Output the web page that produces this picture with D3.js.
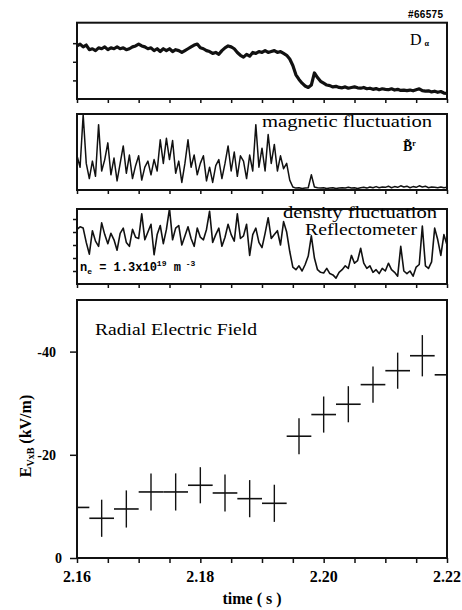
<!DOCTYPE html>
<html><head><meta charset="utf-8">
<script src="https://cdn.jsdelivr.net/npm/d3@7"></script>
<style>body{margin:0;background:#fff}</style>
</head><body><svg id="c" width="462" height="610"></svg>
<script>
// ---- data ----
const sampleTimes = [
2.16,2.1605,2.161,2.1615,2.162,2.1625,2.163,2.1635,2.164,2.1645,
2.165,2.1655,2.166,2.1665,2.167,2.1675,2.168,2.1685,2.169,2.1695,
2.17,2.1705,2.171,2.1715,2.172,2.1725,2.173,2.1735,2.174,2.1745,
2.175,2.1755,2.176,2.1765,2.177,2.1775,2.178,2.1785,2.179,2.1795,
2.18,2.1805,2.181,2.1815,2.182,2.1825,2.183,2.1835,2.184,2.1845,
2.185,2.1855,2.186,2.1865,2.187,2.1875,2.188,2.1885,2.189,2.1895,
2.19,2.1905,2.191,2.1915,2.192,2.1925,2.193,2.1935,2.194,2.1945,
2.195,2.1955,2.196,2.1965,2.197,2.1975,2.198,2.1985,2.199,2.1995,
2.2,2.2005,2.201,2.2015,2.202,2.2025,2.203,2.2035,2.204,2.2045,
2.205,2.2055,2.206,2.2065,2.207,2.2075,2.208,2.2085,2.209,2.2095,
2.21,2.2105,2.211,2.2115,2.212,2.2125,2.213,2.2135,2.214,2.2145,
2.215,2.2155,2.216,2.2165,2.217,2.2175,2.218,2.2185,2.219,2.2195,
2.22];
const dAlpha = [
2.85,2.95,2.8,2.9,2.65,2.7,2.6,2.75,2.7,2.8,
2.65,2.75,2.7,2.8,2.7,2.75,2.65,2.7,2.8,2.85,
2.95,2.85,2.8,2.7,2.75,2.6,2.7,2.55,2.7,2.6,
2.7,2.55,2.65,2.6,2.5,2.6,2.7,2.8,2.9,2.95,
2.75,2.7,2.6,2.55,2.45,2.5,2.4,2.6,2.75,2.85,
2.8,2.7,2.5,2.35,2.25,2.4,2.3,2.5,2.45,2.55,
2.5,2.6,2.5,2.55,2.6,2.5,2.55,2.45,2.35,2.15,
1.8,1.3,1.05,0.85,0.7,0.62,0.75,1.4,1.15,0.95,
0.85,0.75,0.72,0.65,0.68,0.62,0.6,0.65,0.58,0.62,
0.65,0.6,0.58,0.62,0.55,0.58,0.52,0.56,0.5,0.55,
0.52,0.5,0.55,0.48,0.52,0.46,0.48,0.45,0.48,0.44,
0.5,0.55,0.45,0.42,0.44,0.38,0.42,0.36,0.4,0.32,
0.3];
const magFluct = [
4.5,3.0,9.9,3.5,1.5,3.8,1.8,8.6,2.5,4.0,
6.2,2.0,4.2,1.2,3.5,5.8,2.2,4.6,1.5,3.2,
4.5,1.3,3.0,3.8,2.0,4.0,2.5,6.6,3.5,6.8,
4.0,6.5,2.2,3.8,1.0,3.5,6.6,3.0,4.6,2.0,
3.5,4.5,1.2,3.0,1.0,3.2,4.0,1.5,3.5,5.8,
2.5,5.0,1.8,4.5,3.8,1.5,4.6,2.5,8.6,3.0,
5.5,2.5,7.3,3.5,6.0,2.5,4.5,2.8,3.5,1.3,
0.4,0.25,0.3,0.2,0.25,0.3,2.0,0.4,0.3,0.25,
0.3,0.2,0.25,0.3,0.2,0.25,0.3,0.25,0.35,0.25,
0.3,0.2,0.3,0.35,0.25,0.4,0.3,0.45,0.3,0.4,
0.35,0.5,0.3,0.45,0.35,0.55,0.4,0.5,0.3,0.45,
0.35,0.55,0.4,0.5,0.3,0.4,0.35,0.3,0.4,0.3,
0.35];
const densFluct = [
4.2,4.4,4.3,3.2,2.3,4.1,3.3,2.9,4.7,3.8,
3.1,3.9,3.4,2.6,3.9,4.3,3.2,2.9,4.2,3.6,
3.5,5.4,3.4,4.0,4.6,2.25,3.8,4.5,3.1,4.2,
5.8,3.4,4.3,4.5,3.0,3.7,4.4,3.5,2.9,4.3,
3.6,3.4,4.2,5.6,3.2,3.8,4.3,2.9,3.6,4.6,
3.8,3.3,5.4,3.5,3.7,4.6,2.2,3.8,4.3,3.2,
2.8,3.9,5.1,3.5,3.8,4.1,3.0,4.8,4.0,2.5,
1.3,1.1,1.4,1.0,1.5,2.15,3.7,2.0,1.1,0.9,
0.85,1.2,0.8,0.7,0.45,0.9,1.1,1.4,1.2,2.2,
1.6,1.8,2.75,1.6,1.2,1.4,0.9,1.1,0.8,1.2,
1.0,1.6,1.1,0.9,0.6,2.9,1.0,0.8,1.0,0.6,
1.3,1.5,4.45,1.4,1.2,1.7,4.3,3.4,2.2,3.8,
3.0];
const erTimes  = [2.160,2.164,2.168,2.172,2.176,2.180,2.184,2.188,2.192,2.196,2.200,2.204,2.208,2.212,2.216,2.220];
const erValues = [-9.8,-7.7,-9.5,-12.8,-12.8,-14.1,-12.6,-11.5,-10.6,-23.6,-27.8,-29.8,-33.6,-36.3,-39.2,-35.5];
const erErrors = [3.6,3.6,3.6,3.6,3.6,3.5,3.6,3.6,3.6,3.5,3.5,3.5,3.5,3.5,4.0,3.5];
const erBinHalf = 0.002;
const timeTicks = [2.16,2.165,2.17,2.175,2.18,2.185,2.19,2.195,2.2,2.205,2.21,2.215,2.22];
const timeLabels = [2.16,2.18,2.20,2.22];
const erTicks = [0,-20,-40];
const dAlphaTicks = [1,2,3];
const densTicks = [1,2,3,4,5];

// ---- drawing ----
const SERIF = "'Liberation Serif','Times New Roman',serif";
const svg = d3.select("#c");
svg.append("rect").attr("width",462).attr("height",610).attr("fill","#fff");
const x = d3.scaleLinear().domain([2.16,2.22]).range([77,447]);
const defs = svg.append("defs");

const panels = [
  {id:"p1", top:22.7, bottom:99, domain:[0,4.1], data:dAlpha, ticks:dAlphaTicks, sw:3.2},
  {id:"p2", top:114, bottom:190, domain:[0,10], data:magFluct, ticks:[], sw:1.5},
  {id:"p3", top:209, bottom:284, domain:[0,5.77], data:densFluct, ticks:densTicks, sw:1.6}
];

panels.forEach(p=>{
  const y = d3.scaleLinear().domain(p.domain).range([p.bottom,p.top]);
  defs.append("clipPath").attr("id","clip-"+p.id).append("rect")
    .attr("x",77).attr("y",p.top).attr("width",370).attr("height",p.bottom-p.top);
  const line = d3.line().x((d,i)=>x(sampleTimes[i])).y(d=>y(d));
  svg.append("path").datum(p.data).attr("d",line).attr("fill","none")
    .attr("stroke","#111").attr("stroke-width",p.sw).attr("stroke-linejoin","round")
    .attr("clip-path","url(#clip-"+p.id+")");
  const gx = svg.append("g").attr("transform",`translate(0,${p.bottom})`)
    .call(d3.axisBottom(x).tickValues(timeTicks).tickSize(4).tickFormat(""));
  gx.select(".domain").remove();
  gx.selectAll("line").attr("stroke","#111").attr("stroke-width",1.5);
  if(p.ticks.length){
    const gy = svg.append("g").attr("transform","translate(77,0)")
      .call(d3.axisLeft(y).tickValues(p.ticks).tickSize(4).tickFormat(""));
    gy.select(".domain").remove();
    gy.selectAll("line").attr("stroke","#111").attr("stroke-width",1.5);
  }
  svg.append("rect").attr("x",77).attr("y",p.top).attr("width",370).attr("height",p.bottom-p.top)
    .attr("fill","none").attr("stroke","#111").attr("stroke-width",2);
});

// panel labels
svg.append("text").attr("x",443).attr("y",18).attr("text-anchor","end")
  .attr("font-family","'Liberation Sans',Arial,sans-serif").attr("font-weight","bold")
  .attr("font-size",10).attr("textLength",35).text("#66575");
const da = svg.append("text").attr("x",410).attr("y",45).attr("font-family",SERIF).attr("font-size",16);
da.append("tspan").text("D");
da.append("tspan").attr("dx",3).attr("dy",1).attr("font-size",8).attr("font-weight","bold").text("α");

svg.append("text").attr("x",262).attr("y",127).attr("font-family",SERIF).attr("font-size",16)
  .attr("textLength",170).attr("lengthAdjust","spacingAndGlyphs").text("magnetic fluctuation");
const bt = svg.append("text").attr("x",403).attr("y",151).attr("font-family",SERIF).attr("font-size",14).attr("font-weight","bold");
bt.append("tspan").text("B\u0303");
bt.append("tspan").attr("dy",-5).attr("font-size",8).text("r");

svg.append("text").attr("x",283).attr("y",218).attr("font-family",SERIF).attr("font-size",16)
  .attr("textLength",154).attr("lengthAdjust","spacingAndGlyphs").text("density fluctuation");
svg.append("text").attr("x",305).attr("y",234.5).attr("font-family",SERIF).attr("font-size",16)
  .attr("textLength",112).attr("lengthAdjust","spacingAndGlyphs").text("Reflectometer");
const ne = svg.append("text").attr("x",80).attr("y",271)
  .attr("font-family","'Liberation Mono','DejaVu Sans Mono',monospace").attr("font-weight","bold").attr("font-size",12);
ne.append("tspan").text("n");
ne.append("tspan").attr("dy",3).attr("font-size",8).text("e");
ne.append("tspan").attr("dy",-3).text(" = 1.3x10");
ne.append("tspan").attr("dy",-5).attr("font-size",8).text("19");
ne.append("tspan").attr("dy",5).text(" m");
ne.append("tspan").attr("dy",-5).attr("font-size",8).text(" -3");

// ---- bottom panel: radial electric field ----
const yE = d3.scaleLinear().domain([0,-50]).range([558,300]);
defs.append("clipPath").attr("id","clip-er").append("rect")
  .attr("x",77).attr("y",300).attr("width",370).attr("height",258);
const gE = svg.append("g").attr("clip-path","url(#clip-er)");
erTimes.forEach((t,i)=>{
  gE.append("line").attr("x1",x(t-erBinHalf)).attr("x2",x(t+erBinHalf))
    .attr("y1",yE(erValues[i])).attr("y2",yE(erValues[i]))
    .attr("stroke","#111").attr("stroke-width",1.6);
  gE.append("line").attr("x1",x(t)).attr("x2",x(t))
    .attr("y1",yE(erValues[i]-erErrors[i])).attr("y2",yE(erValues[i]+erErrors[i]))
    .attr("stroke","#111").attr("stroke-width",1.4);
});
const gbx = svg.append("g").attr("transform","translate(0,558)")
  .call(d3.axisBottom(x).tickValues(timeTicks).tickSize(5).tickFormat(""));
gbx.select(".domain").remove();
gbx.selectAll("line").attr("stroke","#111").attr("stroke-width",1.5);
const gby = svg.append("g").attr("transform","translate(77,0)")
  .call(d3.axisLeft(yE).tickValues(erTicks).tickSize(7).tickFormat(""));
gby.select(".domain").remove();
gby.selectAll("line").attr("stroke","#111").attr("stroke-width",1.5);
svg.append("rect").attr("x",77).attr("y",300).attr("width",370).attr("height",258)
  .attr("fill","none").attr("stroke","#111").attr("stroke-width",2);

svg.selectAll(".tl").data(timeLabels).enter().append("text")
  .attr("x",d=>x(d)).attr("y",582).attr("text-anchor","middle")
  .attr("font-family",SERIF).attr("font-weight","bold").attr("font-size",16)
  .text(d=>d3.format(".2f")(d));
svg.selectAll(".el").data(erTicks).enter().append("text")
  .attr("x",d=>d===0?62:56).attr("y",d=>yE(d)+5).attr("text-anchor","end")
  .attr("font-family",SERIF).attr("font-weight","bold").attr("font-size",14)
  .text(d=>d===0?"0":String(d));
svg.append("text").attr("x",252).attr("y",604).attr("text-anchor","middle")
  .attr("font-family",SERIF).attr("font-weight","bold").attr("font-size",16).text("time ( s )");
const yl = svg.append("text").attr("transform","translate(31,436) rotate(-90)").attr("text-anchor","middle")
  .attr("font-family",SERIF).attr("font-weight","bold").attr("font-size",16);
yl.append("tspan").text("E");
yl.append("tspan").attr("dy",3).attr("font-size",10).text("VxB");
yl.append("tspan").attr("dy",-3).text(" (kV/m)");
svg.append("text").attr("x",95).attr("y",335).attr("font-family",SERIF).attr("font-size",16)
  .attr("textLength",162).attr("lengthAdjust","spacingAndGlyphs").text("Radial Electric Field");
</script></body></html>
